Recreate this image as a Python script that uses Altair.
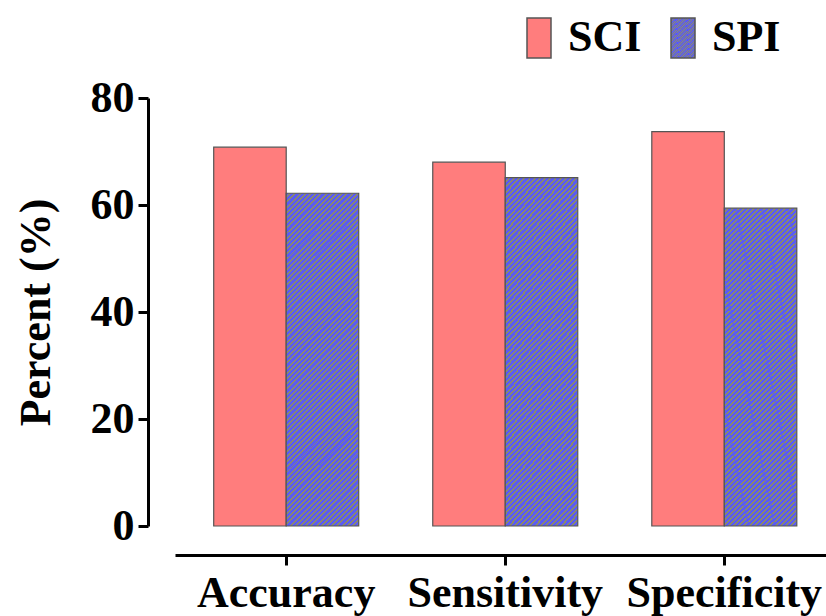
import altair as alt
import pandas as pd

categories = ["Accuracy", "Sensitivity", "Specificity"]
sci_values = [70.8, 68.0, 73.7]
spi_values = [62.2, 65.1, 59.4]
series = ["SCI", "SPI"]
y_ticks = [0, 20, 40, 60, 80]

rows = []
for c, a, b in zip(categories, sci_values, spi_values):
    rows.append({"cat": c, "series": "SCI", "value": a})
    rows.append({"cat": c, "series": "SPI", "value": b})
df = pd.DataFrame(rows)

# hatch pattern for SPI emulated with a hard-stop linear gradient ("///" stripes)
BLUE = "#5b5bf2"
OLIVE = "#8c8c68"
w, h = 72.5, 333.0
k = (w + h) / (w * w + h * h)
x2, y2 = round(w * k, 4), round(h * k, 4)
N = 78
stops = []
for i in range(N):
    a = i / N
    b = (i + 0.62) / N
    c = (i + 1) / N
    stops += [(a, BLUE), (b, BLUE), (b, OLIVE), (c, OLIVE)]
stop_str = ", ".join("{offset: %.5f, color: '%s'}" % (o, col) for o, col in stops)
hatch_expr = "{gradient: 'linear', x1: 0, y1: 0, x2: %s, y2: %s, stops: [%s]}" % (x2, y2, stop_str)

FONT = "Liberation Serif"

chart = alt.Chart(df).mark_bar(stroke="#555555", strokeWidth=1.2).encode(
    x=alt.X("cat:N", sort=categories,
            scale=alt.Scale(paddingInner=0.338, paddingOuter=0.155, align=0.57),
            axis=alt.Axis(title=None, labelAngle=0, offset=29, domainWidth=3, domainColor="black",
                          tickWidth=3, tickSize=10, tickColor="black", labelPadding=6,
                          labelFont=FONT, labelFontSize=44, labelFontWeight="bold",
                          labelColor="black", labelLimit=400)),
    xOffset=alt.XOffset("series:N", sort=series),
    y=alt.Y("value:Q", scale=alt.Scale(domain=[0, 80], nice=False),
            axis=alt.Axis(values=y_ticks, title="Percent (%)", offset=27, grid=False,
                          domainWidth=3, domainColor="black", tickWidth=3, tickSize=10,
                          tickColor="black", labelPadding=4, labelFont=FONT, labelFontSize=44,
                          labelFontWeight="bold", labelColor="black",
                          titleFont=FONT, titleFontSize=44, titleFontWeight="bold",
                          titleColor="black", titlePadding=32)),
    color=alt.Color("series:N", sort=series,
                    scale=alt.Scale(domain=series, range=["#FF7D7D", {"expr": hatch_expr}]),
                    legend=alt.Legend(title=None, orient="none", legendX=342, legendY=-82,
                                      direction="horizontal", symbolType="M-0.6,-1H0.6V1H-0.6Z",
                                      symbolSize=1600, symbolStrokeColor="#555555",
                                      symbolStrokeWidth=1.5, labelOffset=7, columnPadding=19,
                                      padding=0, labelFont=FONT, labelFontSize=44,
                                      labelFontWeight="bold", labelColor="black", labelLimit=300)),
).properties(
    width=651, height=428,
    autosize=alt.AutoSizeParams(type="none"),
    padding={"left": 175, "top": 98, "right": 0, "bottom": 90},
).configure_view(stroke=None)

chart.save("out.html", embed_options={"renderer": "svg", "actions": False})
